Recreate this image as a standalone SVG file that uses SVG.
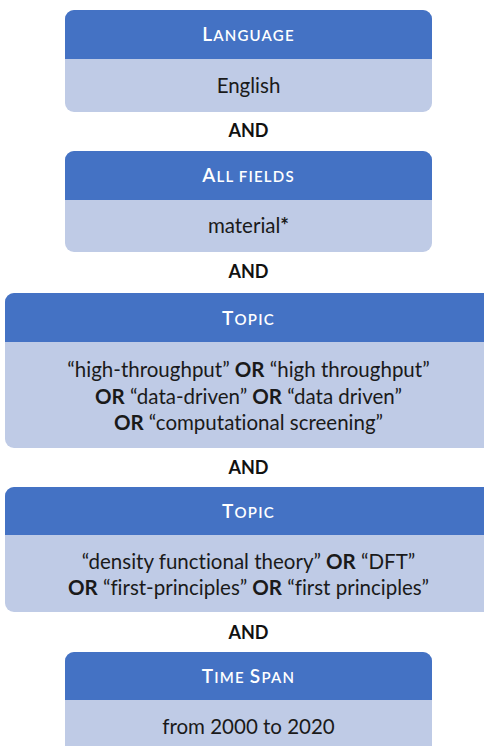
<svg xmlns="http://www.w3.org/2000/svg" width="484" height="746" viewBox="0 0 484 746">
<style>
.hd{fill:#4472C4}
.bd{fill:#BFCBE6}
.ht{font-family:Lato,"Noto Sans",sans-serif;fill:#fff;text-anchor:middle;font-weight:600;letter-spacing:1.2px}
.big{font-size:19px}
.sm{font-size:15px}
.bt{font-family:Lato,"Noto Sans",sans-serif;fill:#1a1a1a;text-anchor:middle;font-size:20.5px;font-variant-ligatures:none}
.b{font-weight:bold}
.and{font-family:Lato,"Noto Sans",sans-serif;fill:#111;text-anchor:middle;font-size:18px;font-weight:bold}
</style>
<rect width="484" height="746" fill="#fff"/>
<g id="language">
<rect class="bd" x="65" y="10" width="367" height="102" rx="9"/>
<path class="hd" d="M65,59 V19 a9,9 0 0 1 9,-9 H423 a9,9 0 0 1 9,9 V59 Z"/>
<text class="ht" x="248.5" y="41"><tspan class="big">L</tspan><tspan class="sm">ANGUAGE</tspan></text>
<text class="bt" x="248.5" y="93">English</text>
</g>
<g id="allfields">
<rect class="bd" x="65" y="151" width="367" height="101" rx="9"/>
<path class="hd" d="M65,200 V160 a9,9 0 0 1 9,-9 H423 a9,9 0 0 1 9,9 V200 Z"/>
<text class="ht" x="248.5" y="182"><tspan class="big">A</tspan><tspan class="sm">LL FIELDS</tspan></text>
<text class="bt" x="248.5" y="233">material<tspan class="b">*</tspan></text>
</g>
<g id="topic1">
<rect class="bd" x="5" y="293" width="490" height="155" rx="9"/>
<path class="hd" d="M5,342 V302 a9,9 0 0 1 9,-9 H495 V342 Z"/>
<text class="ht" x="248.5" y="325"><tspan class="big">T</tspan><tspan class="sm">OPIC</tspan></text>
<text class="bt" x="248.5" y="377">“high-throughput” <tspan class="b">OR</tspan> “high throughput”</text>
<text class="bt" x="248.5" y="404"><tspan class="b">OR</tspan> “data-driven” <tspan class="b">OR</tspan> “data driven”</text>
<text class="bt" x="248.5" y="430"><tspan class="b">OR</tspan> “computational screening”</text>
</g>
<g id="topic2">
<rect class="bd" x="5" y="487" width="490" height="125" rx="9"/>
<path class="hd" d="M5,535 V496 a9,9 0 0 1 9,-9 H495 V535 Z"/>
<text class="ht" x="248.5" y="518"><tspan class="big">T</tspan><tspan class="sm">OPIC</tspan></text>
<text class="bt" x="248.5" y="569">“density functional theory” <tspan class="b">OR</tspan> “DFT”</text>
<text class="bt" x="248.5" y="595"><tspan class="b">OR</tspan> “first-principles” <tspan class="b">OR</tspan> “first principles”</text>
</g>
<g id="timespan">
<rect class="bd" x="65" y="652" width="367" height="110" rx="9"/>
<path class="hd" d="M65,700 V661 a9,9 0 0 1 9,-9 H423 a9,9 0 0 1 9,9 V700 Z"/>
<text class="ht" x="248.5" y="683"><tspan class="big">T</tspan><tspan class="sm">IME </tspan><tspan class="big">S</tspan><tspan class="sm">PAN</tspan></text>
<text class="bt" x="248.5" y="734">from 2000 to 2020</text>
</g>
<g id="connectors">
<text class="and" x="248.5" y="137">AND</text>
<text class="and" x="248.5" y="278">AND</text>
<text class="and" x="248.5" y="474">AND</text>
<text class="and" x="248.5" y="639">AND</text>
</g>
</svg>
